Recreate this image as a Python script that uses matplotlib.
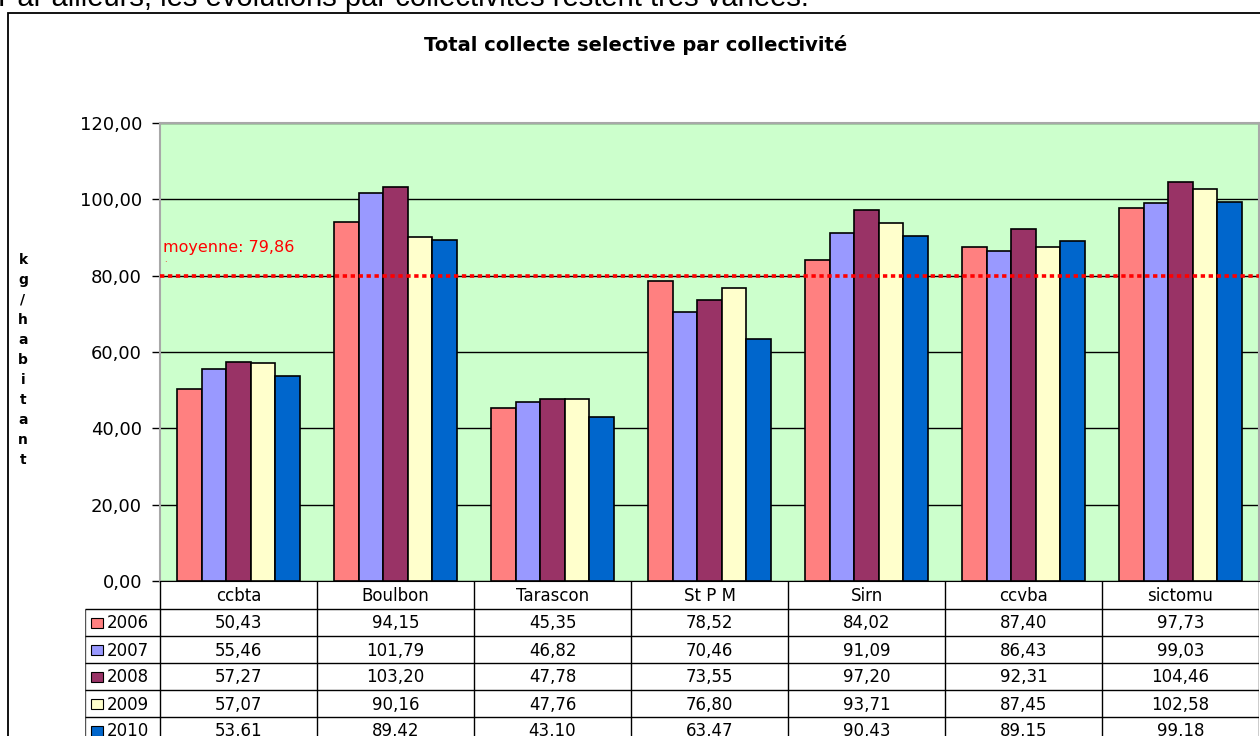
import numpy as np
import matplotlib
matplotlib.use('Agg')
import matplotlib.pyplot as plt
from matplotlib.patches import Rectangle
from matplotlib.ticker import FuncFormatter

plt.rcParams['font.family'] = ['DejaVu Sans']

categories = ['ccbta', 'Boulbon', 'Tarascon', 'St P M', 'Sirn', 'ccvba', 'sictomu']
years = ['2006', '2007', '2008', '2009', '2010']
v2006 = [50.43, 94.15, 45.35, 78.52, 84.02, 87.40, 97.73]
v2007 = [55.46, 101.79, 46.82, 70.46, 91.09, 86.43, 99.03]
v2008 = [57.27, 103.20, 47.78, 73.55, 97.20, 92.31, 104.46]
v2009 = [57.07, 90.16, 47.76, 76.80, 93.71, 87.45, 102.58]
v2010 = [53.61, 89.42, 43.10, 63.47, 90.43, 89.15, 99.18]
moyenne = 79.86
colors = ['#FF8080', '#9999FF', '#993366', '#FFFFCC', '#0066CC']

series = [v2006, v2007, v2008, v2009, v2010]

W, H = 1260, 736


def fx(x):
    return x / W


def fy(y):
    return 1 - y / H


def fmt(v):
    return '{:.2f}'.format(v).replace('.', ',')


fig = plt.figure(figsize=(12.6, 7.36), dpi=100)

# outer chart frame (cut by the page on the right / bottom)
fig.add_artist(Rectangle((fx(8), -0.1), 1.2, fy(13) + 0.1, transform=fig.transFigure,
                         fill=False, edgecolor='black', linewidth=1.3))

# text of the page above the chart, cut off at the top
fig.text(fx(-2), fy(6), 'Par ailleurs, les évolutions par collectivités restent très variées.',
         fontsize=21, family='Liberation Sans', va='baseline', ha='left')

# plot area
left, right, top, bottom = 160, 1259, 123, 581
ax = fig.add_axes([fx(left), fy(bottom), fx(right - left), (bottom - top) / H])
ax.set_facecolor('#CCFFCC')
ax.set_xlim(-0.5, len(categories) - 0.5)
ax.set_ylim(0, 120)
ax.set_yticks(np.arange(0, 121, 20))
ax.yaxis.set_major_formatter(FuncFormatter(lambda v, p: fmt(v)))
ax.tick_params(axis='y', labelsize=13, length=6, width=1, pad=7, direction='out')
ax.set_xticks([])
ax.grid(axis='y', color='black', linewidth=1)
ax.set_axisbelow(True)
for s in ['top', 'right', 'left']:
    ax.spines[s].set_color('#A8A8A8')
    ax.spines[s].set_linewidth(1.5)
ax.spines['bottom'].set_color('black')

x = np.arange(len(categories))
bw = 0.156
for i, (vals, c) in enumerate(zip(series, colors)):
    ax.bar(x + (i - 2) * bw, vals, width=bw, color=c, edgecolor='black', linewidth=1.2, zorder=3)

ax.axhline(moyenne, color='#FF0000', linewidth=2.6, linestyle=(0, (1.2, 1.0)), zorder=4)
ax.text(-0.48, moyenne + 7.6, 'moyenne: ' + fmt(moyenne), color='#FF0000', fontsize=11.5,
        ha='left', va='center')
ax.text(-0.475, moyenne + 4.4, '.', color='#FF0000', fontsize=6, ha='left', va='center')

fig.text(fx(636), fy(45), 'Total collecte selective par collectivité', fontsize=14,
         fontweight='bold', ha='center', va='center')

fig.text(fx(23), fy(360), '\n'.join('kg/habitant'), fontsize=10, fontweight='bold',
         ha='center', va='center', linespacing=1.55)

# data table under the plot
leg_w = (left - 85) / 157
tab = fig.add_axes([fx(85), 0, fx(right - 85), (H - bottom) / H])
tab.set_xlim(-0.5 - leg_w, len(categories) - 0.5)
tab.set_ylim(H - bottom, 0)
tab.axis('off')
hdr = 28
row = 27
tab.vlines(np.arange(len(categories) + 1) - 0.5, 0, H, color='black', linewidth=1)
tab.vlines(-0.5 - leg_w, hdr, H, color='#555555', linewidth=1)
for k in range(len(years) + 1):
    tab.hlines(hdr + k * row, -0.5 - leg_w, len(categories) - 0.5, color='black', linewidth=1)
for j, name in enumerate(categories):
    tab.text(j, hdr / 2 + 1, name, fontsize=12, ha='center', va='center')
for k, (yr, vals, c) in enumerate(zip(years, series, colors)):
    yc = hdr + k * row + row / 2
    tab.add_patch(Rectangle((-0.5 - leg_w + 6 / 157, yc - 5), 12 / 157, 10,
                            facecolor=c, edgecolor='black', linewidth=0.8))
    tab.text(-0.5 - leg_w + 22 / 157, yc + 1, yr, fontsize=12, ha='left', va='center')
    for j, v in enumerate(vals):
        tab.text(j, yc + 1, fmt(v), fontsize=12, ha='center', va='center')

fig.savefig('out.png', dpi=100)
